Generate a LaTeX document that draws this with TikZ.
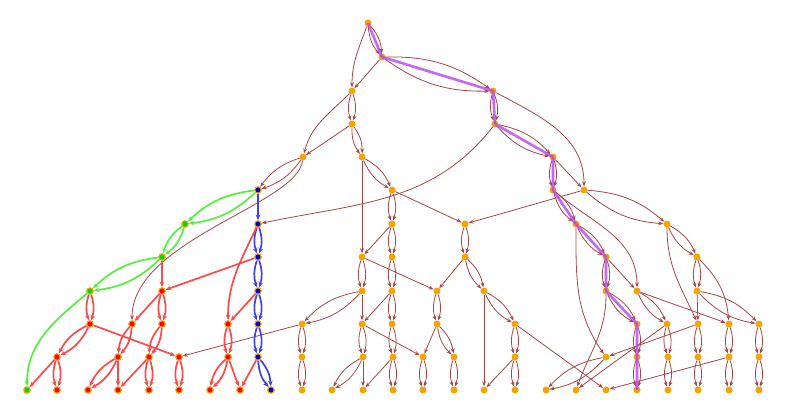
\documentclass[tikz,border=0pt]{standalone}
\usetikzlibrary{arrows.meta}
\definecolor{brn}{RGB}{166,70,70}
\definecolor{vorange}{RGB}{247,163,0}
\definecolor{hlred}{RGB}{255,72,72}
\definecolor{hlgreen}{RGB}{84,240,64}
\definecolor{hlblue}{RGB}{64,64,238}
\definecolor{hlpurple}{RGB}{184,64,240}
\tikzset{
  state/.style={circle,fill=vorange,inner sep=0pt,minimum size=7pt},
  redstate/.style={state,fill=red,draw=vorange,line width=1.1pt,minimum size=6.5pt},
  bluestate/.style={state,fill=blue!80!black,draw=vorange,line width=1.1pt,minimum size=6.5pt},
  greenstate/.style={state,fill=green!85!black,draw=vorange,line width=1.1pt,minimum size=6.5pt},
  link/.style={draw=brn,line width=0.8pt,-{Stealth[length=5pt,width=3.8pt]}},
  redlink/.style={draw=hlred,line width=1.7pt,-{Stealth[length=5.5pt,width=4.5pt]}},
  greenlink/.style={draw=hlgreen,line width=1.7pt,-{Stealth[length=5.5pt,width=4.5pt]}},
  bluelink/.style={draw=hlblue,line width=1.7pt,-{Stealth[length=5.5pt,width=4.5pt]}},
  pathline/.style={draw=hlpurple,line width=2.6pt,opacity=0.8,line join=round}
}
% two parallel links between the same pair of states
\newcommand{\twolinks}[3]{\draw[#1] (#2) to[bend left=18] (#3); \draw[#1] (#2) to[bend right=18] (#3);}
\begin{document}
\begin{tikzpicture}[x=1pt,y=-1pt]
  \useasboundingbox (0,0) rectangle (787,418);

  % states, row by row
  \node[state] (A1) at (368,23) {};
  \node[state] (B1) at (382,57) {};
  \node[state] (C1) at (352,91) {};  \node[state] (C2) at (493,91) {};
  \node[state] (D1) at (352,124) {}; \node[state] (D2) at (495,124) {};
  \node[state] (E1) at (303,157) {}; \node[state] (E2) at (362,157) {}; \node[state] (E3) at (553,157) {};
  \node[bluestate] (F1) at (258,190) {}; \node[state] (F2) at (392,190) {};
  \node[state] (F3) at (553,190) {}; \node[state] (F4) at (584,190) {};
  \node[greenstate] (G1) at (185,224) {}; \node[bluestate] (G2) at (258,224) {};
  \node[state] (G3) at (392,224) {}; \node[state] (G4) at (465,224) {};
  \node[state] (G5) at (576,224) {}; \node[state] (G6) at (667,224) {};
  \node[greenstate] (H1) at (162,257) {}; \node[bluestate] (H2) at (258,257) {};
  \node[state] (H3) at (362,257) {}; \node[state] (H4) at (392,257) {};
  \node[state] (H5) at (465,257) {}; \node[state] (H6) at (606,257) {}; \node[state] (H7) at (697,257) {};
  \node[greenstate] (I1) at (90,291) {}; \node[redstate] (I2) at (162,291) {}; \node[bluestate] (I3) at (258,291) {};
  \node[state] (I4) at (362,291) {}; \node[state] (I5) at (392,291) {}; \node[state] (I6) at (437,291) {};
  \node[state] (I7) at (484,291) {}; \node[state] (I8) at (606,291) {}; \node[state] (I9) at (637,291) {};
  \node[state] (I10) at (697,291) {};
  \node[redstate] (J1) at (90,324) {}; \node[redstate] (J2) at (132,324) {}; \node[redstate] (J3) at (162,324) {};
  \node[redstate] (J4) at (228,324) {}; \node[bluestate] (J5) at (258,324) {};
  \node[state] (J6) at (302,324) {}; \node[state] (J7) at (362,324) {}; \node[state] (J8) at (392,324) {};
  \node[state] (J9) at (437,324) {}; \node[state] (J10) at (515,324) {}; \node[state] (J11) at (637,324) {};
  \node[state] (J12) at (667,324) {}; \node[state] (J13) at (698,324) {}; \node[state] (J14) at (729,324) {};
  \node[state] (J15) at (759,324) {};
  \node[redstate] (K1) at (57,357) {}; \node[redstate] (K2) at (118,357) {}; \node[redstate] (K3) at (149,357) {};
  \node[redstate] (K4) at (179,357) {}; \node[redstate] (K5) at (228,357) {}; \node[bluestate] (K6) at (258,357) {};
  \node[state] (K7) at (302,357) {}; \node[state] (K8) at (363,357) {}; \node[state] (K9) at (393,357) {};
  \node[state] (K10) at (423,357) {}; \node[state] (K11) at (454,357) {}; \node[state] (K12) at (515,357) {};
  \node[state] (K13) at (606,357) {}; \node[state] (K14) at (637,357) {}; \node[state] (K15) at (668,357) {};
  \node[state] (K16) at (698,357) {}; \node[state] (K17) at (729,357) {}; \node[state] (K18) at (759,357) {};
  \node[greenstate] (L1) at (27,390) {}; \node[redstate] (L2) at (57,390) {}; \node[redstate] (L3) at (88,390) {};
  \node[redstate] (L4) at (118,390) {}; \node[redstate] (L5) at (149,390) {}; \node[redstate] (L6) at (179,390) {};
  \node[redstate] (L7) at (210,390) {}; \node[redstate] (L8) at (240,390) {}; \node[bluestate] (L9) at (271,390) {};
  \node[state] (L10) at (302,390) {}; \node[state] (L11) at (332,390) {}; \node[state] (L12) at (363,390) {};
  \node[state] (L13) at (393,390) {}; \node[state] (L14) at (423,390) {}; \node[state] (L15) at (454,390) {};
  \node[state] (L16) at (484,390) {}; \node[state] (L17) at (515,390) {}; \node[state] (L18) at (546,390) {};
  \node[state] (L19) at (576,390) {}; \node[state] (L20) at (606,390) {}; \node[state] (L21) at (637,390) {};
  \node[state] (L22) at (668,390) {}; \node[state] (L23) at (698,390) {}; \node[state] (L24) at (729,390) {};
  \node[state] (L25) at (759,390) {};

  % double links
  \twolinks{link}{A1}{B1} \twolinks{link}{B1}{C2} \twolinks{link}{C1}{D1} \twolinks{link}{D1}{E2}
  \twolinks{link}{C2}{D2} \twolinks{link}{D2}{E3} \twolinks{link}{E1}{F1} \twolinks{link}{E2}{F2}
  \twolinks{link}{E3}{F3} \twolinks{link}{F2}{G3} \twolinks{link}{F3}{G5} \twolinks{link}{F4}{G6}
  \twolinks{link}{G3}{H4} \twolinks{link}{G4}{H5} \twolinks{link}{G5}{H6} \twolinks{link}{G6}{H7}
  \twolinks{link}{H3}{I4} \twolinks{link}{H4}{I5} \twolinks{link}{H5}{I7} \twolinks{link}{H6}{I8}
  \twolinks{link}{H7}{I10} \twolinks{link}{I4}{J6} \twolinks{link}{I5}{J8} \twolinks{link}{I6}{J9}
  \twolinks{link}{I7}{J10} \twolinks{link}{I8}{J11} \twolinks{link}{I9}{J12} \twolinks{link}{I10}{J15}
  \twolinks{link}{J6}{K7} \twolinks{link}{J7}{K8} \twolinks{link}{J8}{K9} \twolinks{link}{J9}{K11}
  \twolinks{link}{J10}{K12} \twolinks{link}{J11}{K14} \twolinks{link}{J12}{K15} \twolinks{link}{J13}{K16}
  \twolinks{link}{J14}{K17} \twolinks{link}{J15}{K18}
  \twolinks{link}{K7}{L10} \twolinks{link}{K8}{L11} \twolinks{link}{K9}{L13} \twolinks{link}{K10}{L14}
  \twolinks{link}{K11}{L15} \twolinks{link}{K12}{L17} \twolinks{link}{K13}{L18} \twolinks{link}{K14}{L21}
  \twolinks{link}{K15}{L22} \twolinks{link}{K16}{L23} \twolinks{link}{K17}{L24} \twolinks{link}{K18}{L25}

  % single links
  \draw[link] (A1) to[out=-110,in=90] (C1);
  \draw[link] (B1) -- (C1);
  \draw[link] (C1) to[out=-135,in=75] (E1);
  \draw[link] (D1) -- (E1);
  \draw[link] (C2) to[out=-28,in=90] (F4);
  \draw[link] (D2) to[out=-128,in=12] (G2);
  \draw[link] (E1) .. controls (297,205) and (132,240) .. (J2);
  \draw[link] (E2) -- (H3);
  \draw[link] (E3) -- (F4);
  \draw[link] (F2) -- (G4);
  \draw[link] (F4) -- (G4);
  \draw[link] (F3) to[out=-40,in=90] (I9);
  \draw[link] (G3) -- (H3);
  \draw[link] (G5) to[out=-90,in=125] (K13);
  \draw[link] (G6) to[out=-90,in=115] (J13);
  \draw[link] (H3) -- (I6);
  \draw[link] (H5) -- (I6);
  \draw[link] (H6) -- (I9);
  \draw[link] (H7) to[out=-45,in=95] (J14);
  \draw[link] (I4) -- (J7);
  \draw[link] (I5) -- (J7);
  \draw[link] (I7) -- (L16);
  \draw[link] (I8) to[out=-90,in=70] (L19);
  \draw[link] (I9) -- (J14);
  \draw[link] (I10) -- (J13);
  \draw[link] (J6) -- (K4);
  \draw[link] (J7) -- (K10);
  \draw[link] (J9) -- (K10);
  \draw[link] (J10) -- (L20);
  \draw[link] (J12) -- (L19);
  \draw[link] (J13) -- (K13);
  \draw[link] (K8) -- (L12);
  \draw[link] (K9) -- (L12);
  \draw[link] (K12) -- (L16);
  \draw[link] (K17) -- (L20);

  % highlighted branches
  \twolinks{greenlink}{F1}{G1} \twolinks{greenlink}{G1}{H1} \twolinks{greenlink}{H1}{I1}
  \draw[greenlink] (I1) to[out=-140,in=90] (L1);
  \draw[bluelink] (F1) -- (G2);
  \twolinks{bluelink}{G2}{H2} \twolinks{bluelink}{H2}{I3} \twolinks{bluelink}{I3}{J5}
  \twolinks{bluelink}{J5}{K6} \twolinks{bluelink}{K6}{L9}
  \draw[redlink] (G2) to[out=-115,in=90] (J4);
  \draw[redlink] (H1) -- (I2);
  \draw[redlink] (H2) -- (I2);
  \draw[redlink] (I2) -- (J2);
  \draw[redlink] (I3) -- (J4);
  \draw[redlink] (J1) -- (K4);
  \draw[redlink] (K1) -- (L1);
  \draw[redlink] (K2) -- (L4);
  \draw[redlink] (K3) -- (L4);
  \draw[redlink] (K5) -- (L8);
  \draw[redlink] (K6) -- (L8);
  \twolinks{redlink}{I1}{J1} \twolinks{redlink}{I2}{J3} \twolinks{redlink}{J1}{K1}
  \twolinks{redlink}{J2}{K2} \twolinks{redlink}{J3}{K3} \twolinks{redlink}{J4}{K5}
  \twolinks{redlink}{K1}{L2} \twolinks{redlink}{K2}{L3} \twolinks{redlink}{K3}{L5}
  \twolinks{redlink}{K4}{L6} \twolinks{redlink}{K5}{L7}

  % path
  \draw[pathline] (A1.center) -- (B1.center) -- (C2.center) -- (D2.center) -- (E3.center)
    -- (F3.center) -- (G5.center) -- (H6.center) -- (I8.center) -- (J11.center)
    -- (K14.center) -- (L21.center);
\end{tikzpicture}
\end{document}
